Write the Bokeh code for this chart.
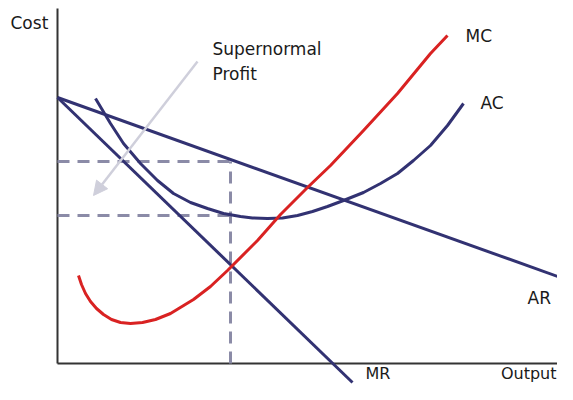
from bokeh.plotting import figure
from bokeh.models import Range1d, Arrow, NormalHead
from bokeh.core.properties import value
from bokeh.embed import file_html
from bokeh.resources import INLINE

# ---- data (Output, Cost units) ----
ar_q = [0.0, 50.3]
ar_c = [26.6, 8.6]

mr_q = [0.0, 29.5]
mr_c = [26.6, -1.9]

ac_q = [3.8, 5.3, 6.6, 8.3, 10.0, 11.6, 13.3, 15.0, 16.6, 18.3, 19.5, 21.0, 22.5,
        24.0, 25.5, 27.0, 28.6, 30.6, 32.3, 34.0, 35.6, 37.3, 39.0, 40.6]
ac_c = [26.5, 24.0, 22.0, 20.0, 18.3, 17.0, 16.1, 15.5, 15.0, 14.7, 14.55, 14.5, 14.55,
        14.8, 15.2, 15.7, 16.3, 17.1, 18.0, 19.0, 20.3, 21.8, 23.8, 26.0]

mc_q = [2.1, 2.4, 2.8, 3.3, 3.9, 4.6, 5.4, 6.3, 7.3, 8.5, 9.8, 11.3, 13.6, 15.3,
        17.0, 20.0, 22.3, 25.0, 27.3, 30.6, 34.0, 37.3, 39.0]
mc_c = [8.8, 7.9, 7.0, 6.2, 5.5, 4.9, 4.4, 4.1, 4.0, 4.1, 4.4, 5.0, 6.4, 7.7,
        9.3, 12.3, 14.9, 17.6, 19.8, 23.3, 27.0, 31.0, 32.8]

q_star = 17.3      # profit-maximising output
price = 20.2       # AR at q*
avg_cost = 14.8    # AC at q*

axis_q = [0.0, 51.6]
axis_c = [0.0, 35.5]

arrow_from = (14.0, 30.2)
arrow_to = (3.6, 16.8)

labels = ["Cost", "Supernormal", "Profit", "MC", "AC", "AR"]
label_q = [-4.7, 15.5, 15.5, 40.8, 42.3, 47.0]
label_c = [34.1, 31.5, 29.0, 32.8, 26.1, 6.6]
bottom_labels = ["MR", "Output"]
bottom_q = [30.8, 49.9]
bottom_align = ["left", "right"]
bottom_c = -1.95

NAVY = "#323272"
RED = "#d92222"
DASH = "#8b8ba7"
ARROW = "#cfcfdb"
FONT = value("DejaVu Sans")

p = figure(width=557, height=384, output_backend="svg", toolbar_location=None,
           x_range=Range1d(-5.7, 50.0), y_range=Range1d(-2.1, 36.3),
           x_axis_type=None, y_axis_type=None, min_border=0)
p.outline_line_color = None
p.background_fill_color = "white"
p.border_fill_color = "white"

# axes
p.line([axis_q[0], axis_q[0]], [axis_c[0], axis_c[1]], line_color="#333333", line_width=2)
p.line([axis_q[0], axis_q[1]], [axis_c[0], axis_c[0]], line_color="#333333", line_width=2)

# dashed guides
p.line([0, q_star], [price, price], line_color=DASH, line_width=3, line_dash="12 8")
p.line([0, q_star], [avg_cost, avg_cost], line_color=DASH, line_width=3, line_dash="12 8")
p.line([q_star, q_star], [0, price], line_color=DASH, line_width=3, line_dash="12 8")

# curves
p.line(ar_q, ar_c, line_color=NAVY, line_width=3)
p.line(mr_q, mr_c, line_color=NAVY, line_width=3)
p.line(ac_q, ac_c, line_color=NAVY, line_width=3, line_join="round")
p.line(mc_q, mc_c, line_color=RED, line_width=3, line_join="round")

# arrow
p.add_layout(Arrow(end=NormalHead(size=14, fill_color=ARROW, line_color=ARROW),
                   x_start=arrow_from[0], y_start=arrow_from[1],
                   x_end=arrow_to[0], y_end=arrow_to[1],
                   line_color=ARROW, line_width=2.5))

# labels
p.text(x=label_q, y=label_c, text=labels, text_font=FONT, text_font_size="17px",
       text_color="#1a1a1a", text_align="left", text_baseline="middle")
p.text(x=bottom_q, y=[bottom_c] * len(bottom_q), text=bottom_labels, text_font=FONT,
       text_font_size="16px", text_color="#1a1a1a", text_align=bottom_align,
       text_baseline="bottom")

open("out.html", "w").write(file_html(p, INLINE))
